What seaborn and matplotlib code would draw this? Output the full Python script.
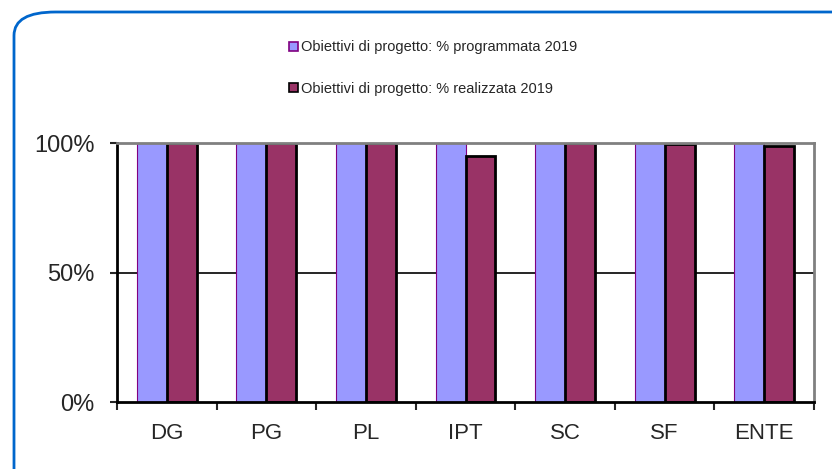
import matplotlib.pyplot as plt
import seaborn as sns
import pandas as pd
from matplotlib.patches import FancyBboxPatch, Patch

categories = ["DG", "PG", "PL", "IPT", "SC", "SF", "ENTE"]
programmata = [100, 100, 100, 100, 100, 100, 100]
realizzata = [100, 100, 100, 95, 100, 99.6, 98.9]
serie = ["Obiettivi di progetto: % programmata 2019",
         "Obiettivi di progetto: % realizzata 2019"]
colori = ["#9999FF", "#993366"]

df = pd.DataFrame({
    "cat": categories * 2,
    "val": programmata + realizzata,
    "serie": [serie[0]] * len(categories) + [serie[1]] * len(categories),
})

sns.set_style("white")
plt.rcParams['font.family'] = ['Liberation Sans', 'DejaVu Sans']

fig = plt.figure(figsize=(8.32, 4.69), dpi=100)
ax = fig.add_axes([117 / 832, 67 / 469, 697 / 832, 259 / 469])

sns.barplot(data=df, x="cat", y="val", hue="serie", palette=colori,
            width=0.6, saturation=1, ax=ax, legend=False)

# bordi delle barre
n = len(categories)
for i, p in enumerate(ax.patches[:2 * n]):
    if i < n:
        p.set_edgecolor("#800080")
        p.set_linewidth(0.8)
    else:
        p.set_edgecolor("black")
        p.set_linewidth(2)

ax.set_ylim(0, 100)
ax.set_xlim(-0.5, n - 0.5)
ax.set_yticks([0, 50, 100])
ax.set_yticklabels(["0%", "50%", "100%"], fontsize=17)
ax.axhline(50, color="black", lw=1.2, zorder=0)
ax.set_xlabel("")
ax.set_ylabel("")

for s in ["top", "right"]:
    ax.spines[s].set_color("#808080")
    ax.spines[s].set_linewidth(2)
ax.spines["left"].set_color("black")
ax.spines["left"].set_linewidth(2)
ax.spines["bottom"].set_color("black")
ax.spines["bottom"].set_linewidth(2)

ax.tick_params(axis="y", left=True, length=5, width=1.5, pad=11)
ax.tick_params(axis="x", which="major", length=0, labelsize=16, pad=15)
ax.set_xticks([i + 0.5 for i in range(-1, n)], minor=True)
ax.tick_params(axis="x", which="minor", bottom=True, length=6, width=1.5)

handles = [Patch(facecolor=colori[0], edgecolor="#800080", lw=1.2),
           Patch(facecolor=colori[1], edgecolor="black", lw=1.2)]
fig.legend(handles, serie, loc="upper left", bbox_to_anchor=(282 / 832, 1 - 33 / 469),
           frameon=False, fontsize=10.5, handlelength=0.6, handleheight=0.6,
           handletextpad=0.2, labelspacing=1.9, borderpad=0)

# cornice blu arrotondata
frame = FancyBboxPatch((14 / 832, -0.2), 1.2, 1.2 - 12 / 469,
                       boxstyle="round,pad=0,rounding_size=0.05",
                       transform=fig.transFigure, fill=False,
                       edgecolor="#0066CC", lw=2, clip_on=False)
fig.patches.append(frame)

fig.savefig("out.png", dpi=100)
